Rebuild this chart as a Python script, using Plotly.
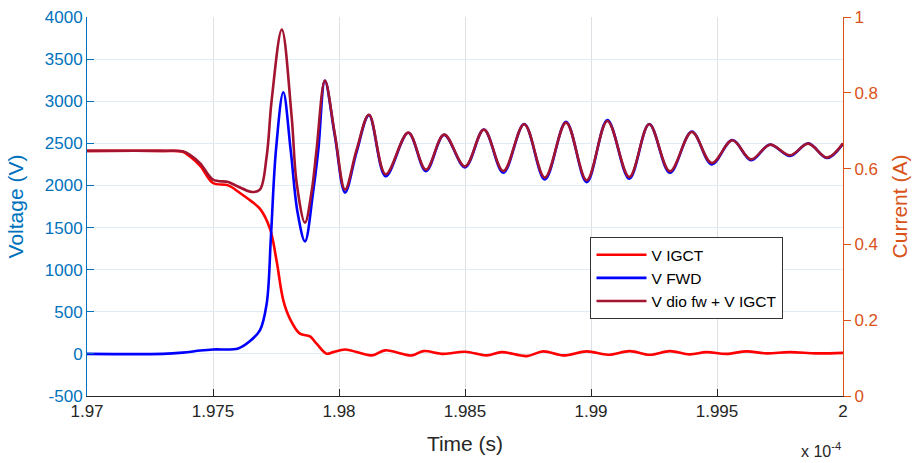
import plotly.graph_objects as go

# time in units of 1e-4 s, voltages in V
t_igct = [1.9700, 1.9730, 1.9738, 1.9741, 1.9745, 1.9750, 1.9756, 1.97607, 1.97647, 1.97686,
          1.97726, 1.97752, 1.97779, 1.97805, 1.97845, 1.97885, 1.97911, 1.97951, 1.97977,
          1.98024, 1.98130, 1.98183, 1.98289, 1.98335, 1.98415, 1.98500, 1.98586, 1.98646,
          1.98745, 1.98811, 1.98890, 1.98983, 1.99068, 1.99154, 1.99233, 1.99313, 1.99392,
          1.99458, 1.99537, 1.99617, 1.99696, 1.99788, 1.99894, 2.0000]
v_igct = [2410, 2410, 2400, 2340, 2230, 2029, 2001, 1910, 1823, 1725,
          1487, 1111, 635, 418, 240, 208, 121, 2, 21,
          53, -18, 42, -18, 33, 0, 26, -18, 21,
          -26, 30, -18, 30, -10, 33, -10, 33, -6,
          21, 0, 30, 6, 21, 6, 12]

t_fwd = [1.9700, 1.9730, 1.9738, 1.9745, 1.9750, 1.9760, 1.97647, 1.97686, 1.97713, 1.97730,
         1.97750, 1.97779, 1.97808, 1.97836, 1.97865, 1.97898,
         1.97918, 1.97944, 1.97984, 1.98024, 1.98070, 1.98119, 1.98185,
         1.98275, 1.98345, 1.98417, 1.98500, 1.98575, 1.98652, 1.98735, 1.98817, 1.98901,
         1.98983, 1.99065, 1.99152, 1.99231, 1.99313, 1.99400, 1.99479, 1.99561, 1.99635,
         1.99710, 1.99790, 1.99862, 1.99937, 2.0000]
v_fwd = [0, 0, 15, 40, 53, 65, 153, 279, 596, 1400,
         2425, 3106, 2425, 1672, 1336, 1940,
         2425, 3245, 2580, 1915, 2400, 2835, 2110,
         2625, 2170, 2600, 2215, 2665, 2150, 2730, 2070, 2755,
         2040, 2775, 2080, 2730, 2150, 2640, 2250, 2540, 2300,
         2485, 2350, 2500, 2325, 2495]

t_sum = [1.9700, 1.9730, 1.9738, 1.9741, 1.9745, 1.9750, 1.9756, 1.9759, 1.97655, 1.97686,
         1.97713, 1.97733, 1.97773, 1.97812, 1.97832, 1.97865, 1.97892,
         1.97911, 1.97944, 1.97984, 1.98024, 1.98070, 1.98119,
         1.98185, 1.98275, 1.98345, 1.98417, 1.98500, 1.98575, 1.98652, 1.98735, 1.98817,
         1.98901, 1.98983, 1.99065, 1.99152, 1.99231, 1.99313, 1.99400, 1.99479, 1.99561,
         1.99635, 1.99710, 1.99790, 1.99862, 1.99937, 2.0000]
v_sum = [2410, 2410, 2405, 2360, 2260, 2070, 2040, 2000, 1922, 1950,
         2346, 3019, 3850, 2821, 2029, 1558, 1940,
         2425, 3245, 2600, 1950, 2425, 2840,
         2132, 2627, 2188, 2603, 2227, 2663, 2171, 2726, 2093,
         2746, 2061, 2765, 2100, 2726, 2168, 2634, 2266, 2536,
         2310, 2484, 2358, 2496, 2330, 2500]

x_ticks = [1.97, 1.975, 1.98, 1.985, 1.99, 1.995, 2.0]
x_labels = ['1.97', '1.975', '1.98', '1.985', '1.99', '1.995', '2']
v_ticks = [-500, 0, 500, 1000, 1500, 2000, 2500, 3000, 3500, 4000]
v_labels = ['-500', '0', '500', '1000', '1500', '2000', '2500', '3000', '3500', '4000']
i_ticks = [0, 0.2, 0.4, 0.6, 0.8, 1]
i_labels = ['0', '0.2', '0.4', '0.6', '0.8', '1']

FONT = 'Liberation Sans, Arial, sans-serif'
BLUE_AX = '#0072BD'
ORANGE_AX = '#D95319'

traces = [
    go.Scatter(x=t_igct, y=v_igct, name='V IGCT', mode='lines', line_shape='spline',
               line=dict(color='#FF0000', width=2.6)),
    go.Scatter(x=t_fwd, y=v_fwd, name='V FWD', mode='lines', line_shape='spline',
               line=dict(color='#0000FF', width=2.6)),
    go.Scatter(x=t_sum, y=v_sum, name='V dio fw + V IGCT', mode='lines', line_shape='spline',
               line=dict(color='#A2142F', width=2.6)),
    # empty trace so the right-hand current axis gets drawn
    go.Scatter(x=[], y=[], yaxis='y2', showlegend=False, hoverinfo='skip'),
]

fig = go.Figure(data=traces)

fig.update_layout(
    width=914, height=463,
    margin=dict(l=87, r=71, t=17, b=67),
    paper_bgcolor='white', plot_bgcolor='white',
    font=dict(family=FONT, size=17, color='#262626'),
    xaxis=dict(range=[1.97, 2.0], tickvals=x_ticks, ticktext=x_labels, automargin=False,
               showgrid=True, gridcolor='#DDE0E4', gridwidth=1, zeroline=False,
               showline=True, linecolor='#262626', linewidth=1,
               ticks='inside', ticklen=7, tickcolor='#262626',
               tickfont=dict(size=17, color='#262626'),
               title=dict(text='Time (s)', font=dict(size=21, color='#262626'))),
    yaxis=dict(range=[-500, 4000], tickvals=v_ticks, ticktext=v_labels, automargin=False,
               showgrid=True, gridcolor='#E2ECF6', gridwidth=1, zeroline=False,
               showline=True, linecolor=BLUE_AX, linewidth=1,
               ticks='inside', ticklen=7, tickcolor=BLUE_AX,
               tickfont=dict(size=17, color=BLUE_AX),
               title=dict(text='Voltage (V)', font=dict(size=21, color=BLUE_AX))),
    yaxis2=dict(range=[0, 1], tickvals=i_ticks, ticktext=i_labels, overlaying='y', side='right',
                automargin=False, showgrid=False, zeroline=False,
                showline=True, linecolor=ORANGE_AX, linewidth=1,
                ticks='outside', ticklen=7, tickcolor=ORANGE_AX,
                tickfont=dict(size=17, color=ORANGE_AX),
                title=dict(text='Current (A)', font=dict(size=21, color=ORANGE_AX))),
    legend=dict(x=0.666, y=0.419, xanchor='left', yanchor='top', itemwidth=50,
                bgcolor='white', bordercolor='#333333', borderwidth=1,
                font=dict(size=15.5, color='black'), tracegroupgap=0),
    showlegend=True,
)

# exponent marker under the right end of the time axis
fig.add_annotation(text='x 10<sup>-4</sup>', xref='paper', yref='paper',
                   x=1.0, y=-0.11, xanchor='right', yanchor='top', showarrow=False,
                   font=dict(size=16, color='#262626'))

# drop the default page margin so the figure sits at the window's corner
fig.write_html("out.html", config={'displayModeBar': False},
               post_script="document.body.style.margin='0';")
